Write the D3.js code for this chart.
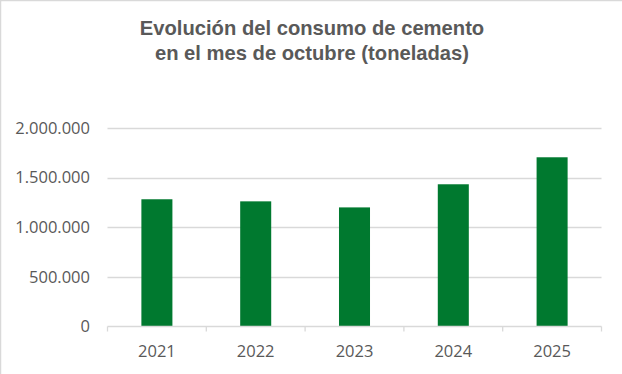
<!DOCTYPE html>
<html><head><meta charset="utf-8">
<script src="https://cdn.jsdelivr.net/npm/d3@7"></script>
<style>body{margin:0;background:#fff}svg{display:block}</style>
</head><body>
<svg id="c" width="622" height="374"></svg>
<script>
const titleLines = ["Evolución del consumo de cemento", "en el mes de octubre (toneladas)"];
const years = ["2021", "2022", "2023", "2024", "2025"];
const consumo = [1282000, 1261000, 1200000, 1433000, 1705000];
const yTicks = [0, 500000, 1000000, 1500000, 2000000];

const W = 622, H = 374;
const svg = d3.select("#c");
const textColor = "#595959", gridColor = "#d9d9d9", barColor = "#00792f";
const font = "'Open Sans', 'Liberation Sans', Arial, sans-serif";

// chart border (only top/left visible in reference)
svg.append("rect").attr("x", 0.5).attr("y", 0.5).attr("width", W + 5).attr("height", H + 5)
  .attr("fill", "#fff").attr("stroke", gridColor).attr("stroke-width", 1.5);

const x0 = 107.5, x1 = 601.5, yTop = 128, yBot = 326.5;
const x = d3.scaleBand().domain(years).range([x0, x1]).paddingInner(0.686).paddingOuter(0.343);
const y = d3.scaleLinear().domain([0, 2000000]).range([yBot, yTop]);

const fmt = v => d3.format(",")(v).replace(/,/g, ".");

// gridlines
svg.append("g").selectAll("line").data(yTicks.filter(d => d > 0)).join("line")
  .attr("x1", x0).attr("x2", x1)
  .attr("y1", d => Math.round(y(d)) + 0.5).attr("y2", d => Math.round(y(d)) + 0.5)
  .attr("stroke", gridColor).attr("stroke-width", 1.3);

// y labels
svg.append("g").selectAll("text").data(yTicks).join("text")
  .attr("x", 90).attr("y", d => y(d)).attr("dy", "0.35em")
  .attr("text-anchor", "end").attr("fill", textColor)
  .style("font-family", font).style("font-size", "16.5px")
  .text(fmt);

// bars
svg.append("g").selectAll("rect").data(years).join("rect")
  .attr("x", d => x(d)).attr("width", x.bandwidth())
  .attr("y", (d, i) => y(consumo[i])).attr("height", (d, i) => yBot - y(consumo[i]))
  .attr("fill", barColor);

// x axis
const xAxis = svg.append("g");
xAxis.append("line").attr("x1", x0).attr("x2", x1).attr("y1", yBot).attr("y2", yBot)
  .attr("stroke", gridColor).attr("stroke-width", 1.3);
const tickPos = d3.range(years.length + 1).map(i => x0 + i * (x1 - x0) / years.length);
xAxis.selectAll("line.t").data(tickPos).join("line").attr("class", "t")
  .attr("x1", d => d).attr("x2", d => d).attr("y1", yBot).attr("y2", yBot + 5)
  .attr("stroke", gridColor).attr("stroke-width", 1.3);
xAxis.selectAll("text").data(years).join("text")
  .attr("x", d => x(d) + x.bandwidth() / 2).attr("y", 357)
  .attr("text-anchor", "middle").attr("fill", textColor)
  .style("font-family", font).style("font-size", "16.5px")
  .text(d => d);

// title
svg.append("g").selectAll("text").data(titleLines).join("text")
  .attr("x", 312).attr("y", (d, i) => 35 + i * 25)
  .attr("text-anchor", "middle").attr("fill", textColor)
  .style("font-family", "'Liberation Sans', Arial, sans-serif")
  .style("font-weight", "bold").style("font-size", "20.2px")
  .text(d => d);
</script>
</body></html>
